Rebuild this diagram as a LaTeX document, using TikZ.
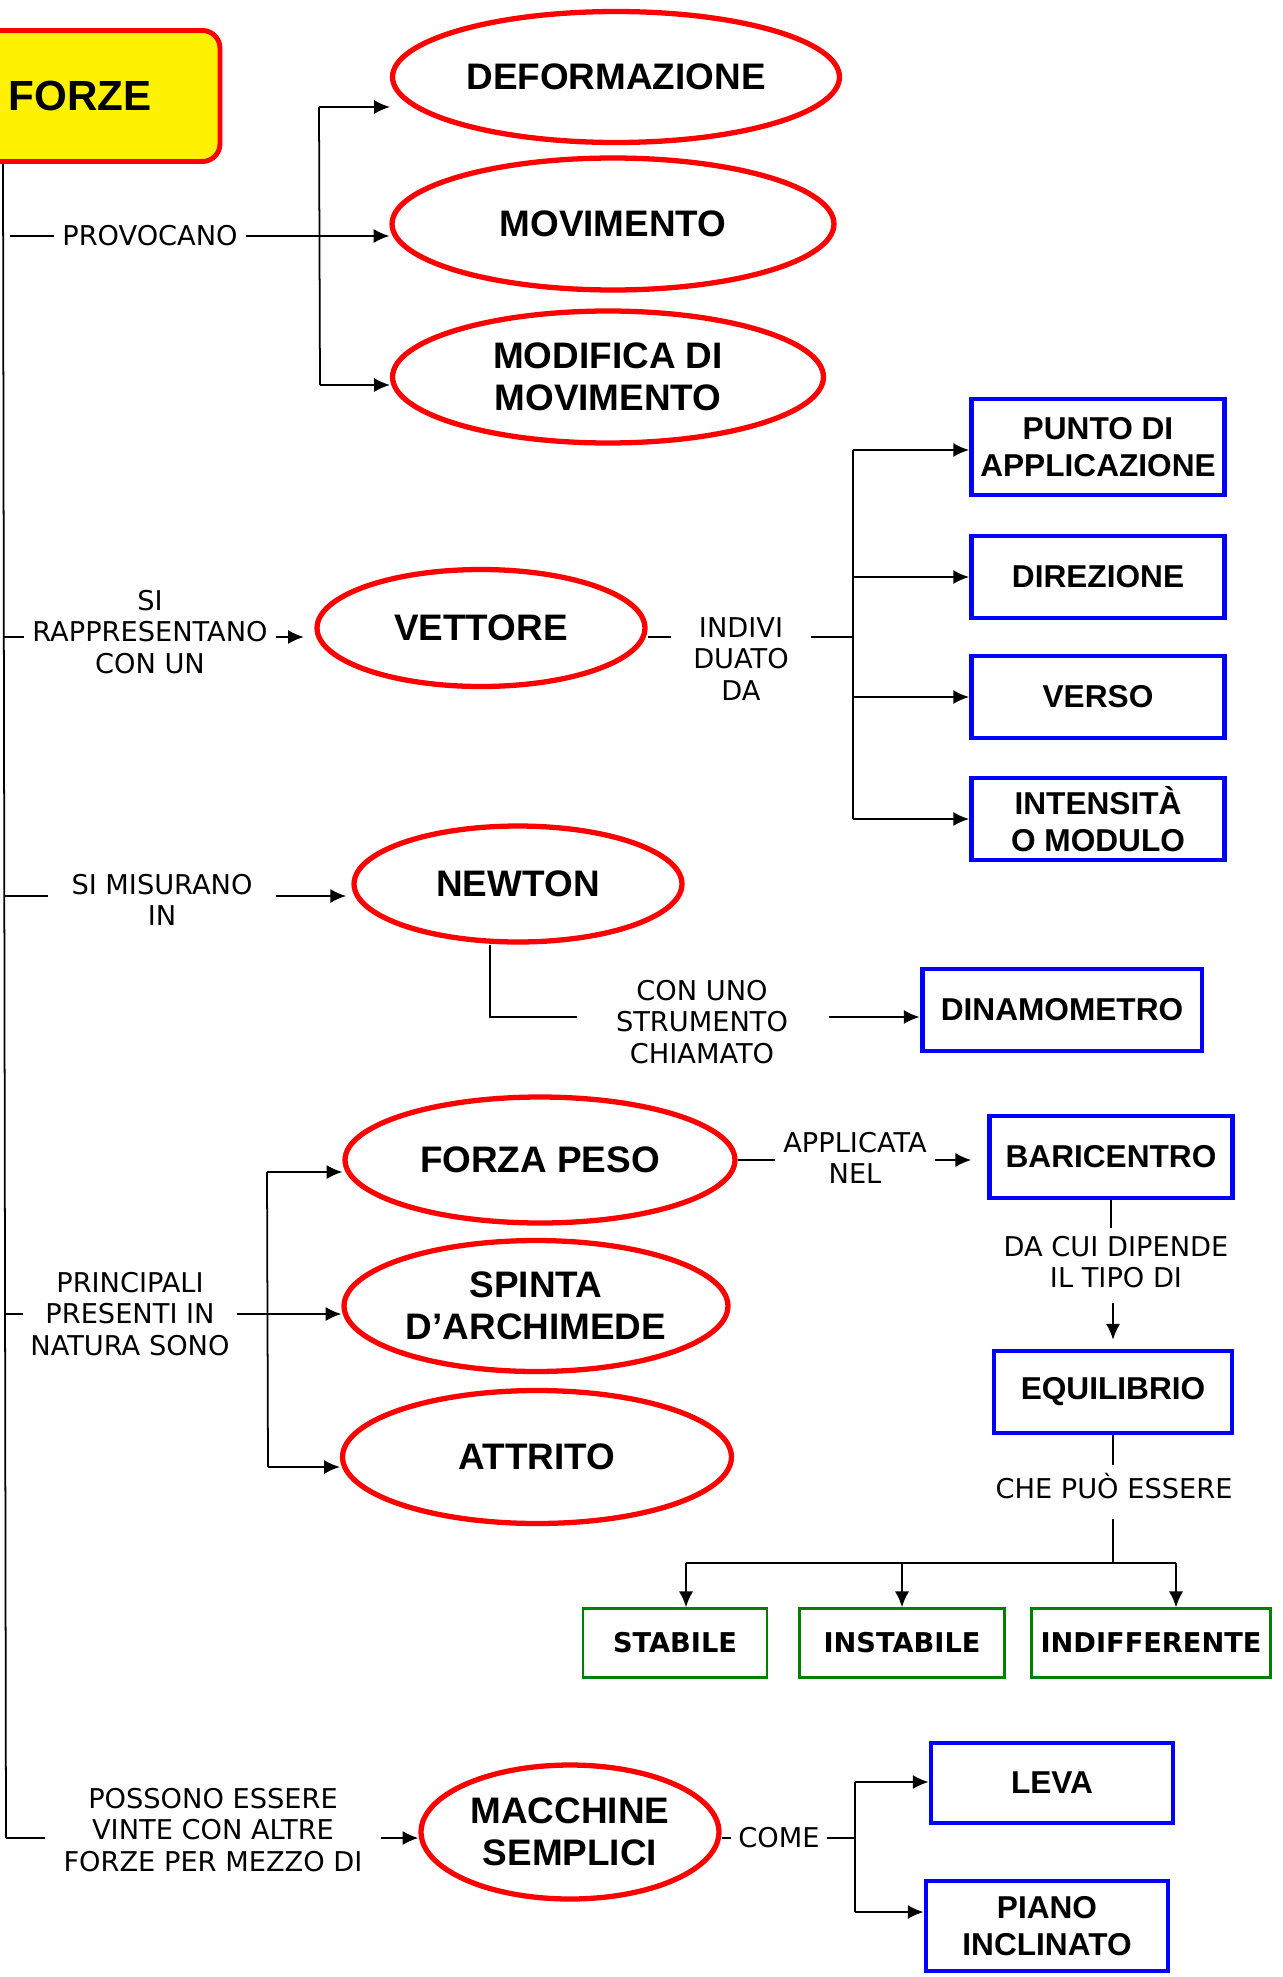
\documentclass[tikz,border=0pt]{standalone}
\usepackage{fontspec}
\setmainfont{Liberation Sans}
\newfontfamily\verdana{DejaVu Sans}
\usetikzlibrary{shapes,backgrounds}
\usetikzlibrary{arrows.meta}

\definecolor{verde}{RGB}{0,128,0}

\tikzset{
  titolo/.style={rectangle, rounded corners=10pt, draw=red, fill=yellow, line width=2.8pt,
    minimum width=5.16cm, minimum height=2.62cm, text width=3.3cm, inner xsep=0.93cm,
    align=left, font=\fontsize{24}{28}\bfseries},
  ovale/.style={ellipse, draw=red, line width=3pt, inner sep=0pt, align=center,
    font=\fontsize{21}{24}\bfseries},
  blu/.style={rectangle, draw=blue, line width=2.8pt, inner sep=0pt, align=center,
    minimum width=5.06cm, minimum height=1.64cm, font=\fontsize{18}{21}\bfseries},
  verdebox/.style={rectangle, draw=verde, line width=1.4pt, inner sep=0pt,
    minimum height=1.38cm, font=\verdana\fontsize{15.5}{18}\bfseries},
  etic/.style={inner sep=4pt, align=center, font=\verdana\fontsize{15.5}{18}\selectfont},
}

\begin{document}
\begin{tikzpicture}[x=0.02cm, y=-0.02cm, line width=1pt, >={Latex[length=9pt,width=8pt]}]
\fill[white] (0,0) rectangle (1282,1977);
\useasboundingbox (0,0) rectangle (1282,1977);

\node[titolo] (forze) at (91,96) {FORZE};

\node[ovale, minimum width=8.94cm, minimum height=2.62cm] (deform) at (616,77) {DEFORMAZIONE};
\node[ovale, minimum width=8.84cm, minimum height=2.64cm] (movim) at (613,224) {MOVIMENTO};
\node[ovale, minimum width=8.62cm, minimum height=2.64cm] (modif) at (608,377) {MODIFICA DI\\MOVIMENTO};
\node[ovale, minimum width=6.56cm, minimum height=2.34cm] (vettore) at (481,628) {VETTORE};
\node[ovale, minimum width=6.56cm, minimum height=2.32cm] (newton) at (518,884) {NEWTON};
\node[ovale, minimum width=7.8cm, minimum height=2.52cm] (peso) at (540,1160) {FORZA PESO};
\node[ovale, minimum width=7.68cm, minimum height=2.62cm] (spinta) at (536,1306) {SPINTA\\D’ARCHIMEDE};
\node[ovale, minimum width=7.78cm, minimum height=2.66cm] (attrito) at (537,1457) {ATTRITO};
\node[ovale, minimum width=5.96cm, minimum height=2.68cm] (macchine) at (570,1832) {MACCHINE\\SEMPLICI};

\node[blu, minimum height=1.92cm] (punto) at (1098,447) {PUNTO DI\\APPLICAZIONE};
\node[blu] (direz) at (1098,577) {DIREZIONE};
\node[blu] (verso) at (1098,697) {VERSO};
\node[blu] (intens) at (1098,819) {INTENSITÀ\\O MODULO};
\node[blu, minimum width=5.6cm] (dinam) at (1062,1010) {DINAMOMETRO};
\node[blu, minimum width=4.86cm] (bari) at (1111,1157) {BARICENTRO};
\node[blu, minimum width=4.76cm] (equil) at (1113,1392) {EQUILIBRIO};
\node[blu, minimum width=4.84cm, minimum height=1.6cm] (leva) at (1052,1783) {LEVA};
\node[blu, minimum width=4.84cm, minimum height=1.8cm] (piano) at (1047,1926) {PIANO\\INCLINATO};

\node[verdebox, minimum width=3.68cm] (stab) at (675,1643) {STABILE};
\node[verdebox, minimum width=4.1cm] (instab) at (902,1643) {INSTABILE};
\node[verdebox, minimum width=4.78cm] (indiff) at (1151,1643) {INDIFFERENTE};

\node[etic] (provocano) at (150,236) {PROVOCANO};
\node[etic] (rappr) at (150,632) {SI\\RAPPRESENTANO\\CON UN};
\node[etic] (indiv) at (741,659) {INDIVI\\DUATO\\DA};
\node[etic] (misur) at (162,900) {SI MISURANO\\IN};
\node[etic] (strum) at (702,1022) {CON UNO\\STRUMENTO\\CHIAMATO};
\node[etic] (princ) at (130,1314) {PRINCIPALI\\PRESENTI IN\\NATURA SONO};
\node[etic] (applic) at (855,1158) {APPLICATA\\NEL};
\node[etic] (dacui) at (1116,1262) {DA CUI DIPENDE\\IL TIPO DI};
\node[etic] (chepuo) at (1114,1486) {CHE PUÒ ESSERE};
\node[etic] (possono) at (213,1830) {POSSONO ESSERE\\VINTE CON ALTRE\\FORZE PER MEZZO DI};
\node[etic] (come) at (779,1838) {COME};

% tronco
\coordinate (tr1) at (3,236);
\coordinate (tr2) at (3,637);
\coordinate (tr3) at (4,896);
\coordinate (tr4) at (4,1314);
\coordinate (tr5) at (6,1838);
\draw (forze.south -| tr1) -- (tr5);

\coordinate (pv1) at (319,107);
\coordinate (pv2) at (319,236);
\coordinate (pv3) at (320,385);
\draw[shorten <=4pt] (tr1) -- (provocano.west);
\draw (provocano.east) -- (pv2);
\draw (pv1) -- (pv3);
\draw[->] (pv1) -- (pv1 -| deform.west);
\draw[->] (pv2) -- (pv2 -| movim.west);
\draw[->] (pv3) -- (pv3 -| modif.west);

\draw (tr2) -- (tr2 -| rappr.west);
\draw[->, shorten >=6pt] (rappr.east |- tr2) -- (tr2 -| vettore.west);
\coordinate (iv1) at (853,450);
\coordinate (iv2) at (853,637);
\draw[shorten >=8pt] (iv2 -| vettore.east) -- (iv2 -| indiv.west);
\draw[shorten <=8pt] (iv2 -| indiv.east) -- (iv2);
\draw (iv1) -- (iv1 |- intens);
\draw[->] (iv1) -- (iv1 -| punto.west);
\draw[->] (iv1 |- direz) -- (direz.west);
\draw[->] (iv1 |- verso) -- (verso.west);
\draw[->] (iv1 |- intens) -- (intens.west);

\draw[shorten >=9pt] (tr3) -- (tr3 -| misur.west);
\draw[->, shorten <=9pt, shorten >=3pt] (misur.east |- tr3) -- (tr3 -| newton.west);
\coordinate (nw1) at (490,1017);
\draw[shorten >=18pt] (newton.south -| nw1) -- (nw1) -- (nw1 -| strum.west);
\draw[->, shorten <=19pt] (nw1 -| strum.east) -- (nw1 -| dinam.west);

\draw (tr4) -- (tr4 -| princ.west);
\coordinate (pr1) at (267,1172);
\coordinate (pr2) at (267,1314);
\coordinate (pr3) at (268,1467);
\draw (princ.east |- tr4) -- (pr2);
\draw (pr1) -- (pr3);
\draw[->] (pr1) -- (pr1 -| peso.west);
\draw[->] (pr2) -- (pr2 -| spinta.west);
\draw[->] (pr3) -- (pr3 -| attrito.west);

\draw (peso.east) -- (peso.east -| applic.west);
\draw[->, shorten >=9pt] (peso.east -| applic.east) -- (peso.east -| bari.west);
\draw (bari.south) -- (bari.south |- dacui.north);
\draw[->, shorten <=4pt, shorten >=5pt] (equil.north |- dacui.south) -- (equil.north);

\coordinate (eq1) at (686,1563);
\coordinate (eq2) at (1176,1563);
\draw (equil.south) -- (equil.south |- chepuo.north);
\draw[shorten <=7pt] (equil.south |- chepuo.south) -- (equil.south |- eq1);
\draw (eq1) -- (eq2);
\draw[->] (eq1) -- (eq1 |- stab.north);
\draw[->] (instab.north |- eq1) -- (instab.north);
\draw[->] (eq2) -- (eq2 |- indiff.north);

\draw[shorten >=6pt] (tr5) -- (tr5 -| possono.west);
\draw[->, shorten <=6pt] (possono.east |- tr5) -- (tr5 -| macchine.west);
\coordinate (cm1) at (855,1782);
\coordinate (cm2) at (855,1912);
\draw (come.west -| macchine.east) -- (come.west);
\draw (come.east) -- (come.east -| cm1);
\draw (cm1) -- (cm2);
\draw[->] (cm1) -- (cm1 -| leva.west);
\draw[->] (cm2) -- (cm2 -| piano.west);
\end{tikzpicture}
\end{document}
